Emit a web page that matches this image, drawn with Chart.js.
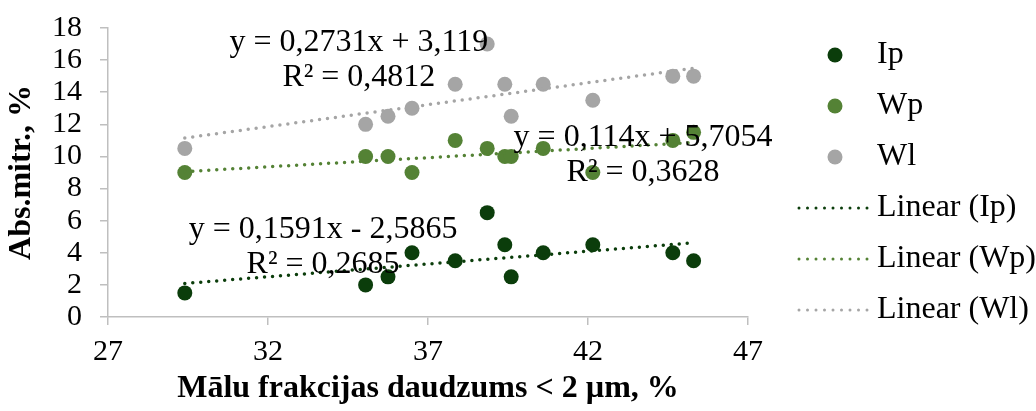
<!DOCTYPE html>
<html>
<head>
<meta charset="utf-8">
<script src="https://cdn.jsdelivr.net/npm/chart.js@4/dist/chart.umd.min.js"></script>
<style>
  html, body { margin: 0; padding: 0; background: #fff; }
  #wrap { width: 1036px; height: 411px; }
</style>
</head>
<body>
<div id="wrap"><canvas id="chart"></canvas></div>
<script>
// clay fraction, % (same samples for all three series)
const clayFraction = [29.4, 35.05, 35.75, 36.5, 37.85, 38.85, 39.4, 39.6, 40.6, 42.15, 44.65, 45.3];
const ipValues = [1.5, 2, 2.5, 4, 3.5, 6.5, 4.5, 2.5, 4, 4.5, 4, 3.5];
const wpValues = [9, 10, 10, 9, 11, 10.5, 10, 10, 10.5, 9, 11, 11.5];
const wlValues = [10.5, 12, 12.5, 13, 14.5, 17, 14.5, 12.5, 14.5, 13.5, 15, 15];

const seriesNames = ['Ip', 'Wp', 'Wl'];
const seriesColors = ['#0b3d0b', '#548235', '#a5a5a5'];
const trendSlopes = [0.1591, 0.114, 0.2731];
const trendIntercepts = [-2.5865, 5.7054, 3.119];
const trendLabels = [
  ['y = 0,1591x - 2,5865', 'R² = 0,2685'],
  ['y = 0,114x + 5,7054', 'R² = 0,3628'],
  ['y = 0,2731x + 3,119', 'R² = 0,4812']
];
// where each equation label sits (data coords of first line centre)
const labelAnchors = [[33.72, 5.42], [43.72, 11.2], [34.84, 17.12]];

const xTicks = [27, 32, 37, 42, 47];
const yTicks = [0, 2, 4, 6, 8, 10, 12, 14, 16, 18];

const FONT = "'Liberation Serif', 'Times New Roman', serif";
const FS = 32;     // titles, labels, legend
const TICK_FS = 30;
Chart.defaults.font.family = FONT;
Chart.defaults.font.size = FS;
Chart.defaults.color = '#000';

const allSeries = [ipValues, wpValues, wlValues];
const xmin = Math.min(...clayFraction), xmax = Math.max(...clayFraction);

const datasets = [];
allSeries.forEach((vals, i) => {
  datasets.push({
    type: 'scatter',
    label: seriesNames[i],
    data: vals.map((v, k) => ({ x: clayFraction[k], y: v })),
    backgroundColor: seriesColors[i],
    borderWidth: 0,
    pointRadius: 7.5,
    order: 2
  });
});
allSeries.forEach((vals, i) => {
  datasets.push({
    type: 'line',
    label: 'Linear (' + seriesNames[i] + ')',
    data: [xmin, xmax].map(x => ({ x: x, y: trendSlopes[i] * x + trendIntercepts[i] })),
    borderColor: seriesColors[i],
    borderWidth: 3.5,
    borderDash: [0, 8],
    borderCapStyle: 'round',
    pointRadius: 0,
    fill: false,
    order: 1
  });
});

const eqLabels = {
  id: 'eqLabels',
  afterDatasetsDraw(chart) {
    const ctx = chart.ctx, xs = chart.scales.x, ys = chart.scales.y;
    ctx.save();
    ctx.font = FS + 'px ' + FONT;
    ctx.fillStyle = '#000';
    ctx.textAlign = 'center';
    ctx.textBaseline = 'middle';
    trendLabels.forEach((lines, i) => {
      const px = xs.getPixelForValue(labelAnchors[i][0]);
      const py = ys.getPixelForValue(labelAnchors[i][1]);
      lines.forEach((t, j) => ctx.fillText(t, px, py + j * 35));
    });
    ctx.restore();
  }
};

const sideLegend = {
  id: 'sideLegend',
  afterDraw(chart) {
    const ctx = chart.ctx, area = chart.chartArea;
    ctx.save();
    ctx.font = FS + 'px ' + FONT;
    ctx.fillStyle = '#000';
    ctx.textBaseline = 'middle';
    const x0 = area.right + 51;
    chart.data.datasets.forEach((ds, i) => {
      const y = area.top + 27 + i * 51;
      if (ds.type === 'scatter') {
        ctx.fillStyle = ds.backgroundColor;
        ctx.beginPath();
        ctx.arc(x0 + 36, y, 7.5, 0, Math.PI * 2);
        ctx.fill();
      } else {
        ctx.strokeStyle = ds.borderColor;
        ctx.lineWidth = 3;
        ctx.lineCap = 'round';
        ctx.setLineDash([0, 8.5]);
        ctx.beginPath();
        ctx.moveTo(x0, y);
        ctx.lineTo(x0 + 71, y);
        ctx.stroke();
        ctx.setLineDash([]);
      }
      ctx.fillStyle = '#000';
      ctx.fillText(ds.label, x0 + 78, y);
    });
    ctx.restore();
  }
};

new Chart(document.getElementById('chart'), {
  data: { datasets: datasets },
  options: {
    responsive: true,
    maintainAspectRatio: false,
    animation: false,
    layout: { padding: { left: 0, right: 288, top: 28, bottom: 0 } },
    plugins: { legend: { display: false }, tooltip: { enabled: false } },
    scales: {
      x: {
        type: 'linear',
        min: 27, max: 47,
        afterBuildTicks: s => { s.ticks = xTicks.map(v => ({ value: v })); },
        afterFit: s => { s.height = 94; },
        grid: { drawOnChartArea: false, color: '#bfbfbf', lineWidth: 1.5, tickLength: 8 },
        border: { color: '#bfbfbf', width: 1.5 },
        ticks: { padding: 9, autoSkip: false, maxRotation: 0, font: { size: TICK_FS } },
        title: { display: true, text: 'Mālu frakcijas daudzums < 2 µm, %', font: { size: FS, weight: 'bold' }, padding: { top: 0, bottom: 3 } }
      },
      y: {
        type: 'linear',
        min: 0, max: 18,
        afterBuildTicks: s => { s.ticks = yTicks.map(v => ({ value: v })); },
        afterFit: s => { s.width = 108; s.paddingTop = 10; s.paddingBottom = 10; },
        grid: { drawOnChartArea: false, color: '#bfbfbf', lineWidth: 1.5, tickLength: 8 },
        border: { color: '#bfbfbf', width: 1.5 },
        ticks: { padding: 18, autoSkip: false, font: { size: TICK_FS } },
        title: { display: true, text: 'Abs.mitr., %', font: { size: FS, weight: 'bold' }, padding: { top: 3, bottom: 0 } }
      }
    }
  },
  plugins: [eqLabels, sideLegend]
});
</script>
</body>
</html>
